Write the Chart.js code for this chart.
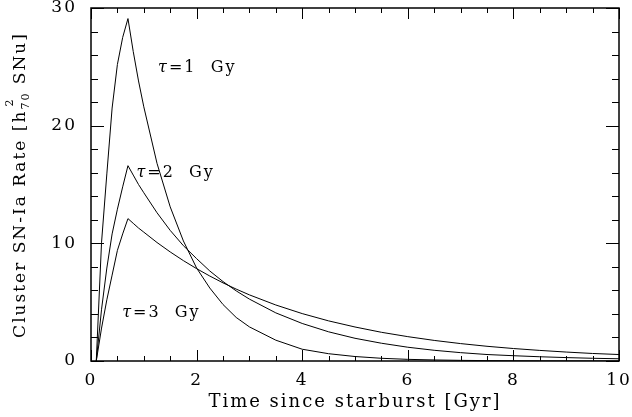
<!DOCTYPE html>
<html>
<head>
<meta charset="utf-8">
<script src="https://cdn.jsdelivr.net/npm/chart.js@4.4.0/dist/chart.umd.min.js"></script>
<style>
html, body { margin: 0; padding: 0; background: #fff; }
</style>
</head>
<body>
<canvas id="myChart" width="632" height="417"></canvas>
<script>
// time since starburst [Gyr]
const timeGyr = [0.1, 0.2, 0.3, 0.4, 0.5, 0.6, 0.7, 0.8, 0.9, 1.0,
    1.25, 1.5, 1.75, 2.0, 2.25, 2.5, 2.75, 3.0,
    3.5, 4.0, 4.5, 5.0, 5.5, 6.0, 6.5, 7.0, 7.5, 8.0, 8.5, 9.0, 9.5, 10.0];

// SN Ia rate [h70^2 SNu]
const rateTau1 = [0, 10.1, 15.9, 21.5, 25.2, 27.5, 29.1, 26.3, 23.8, 21.6,
    16.8, 13.1, 10.2, 7.9, 6.2, 4.8, 3.7, 2.9,
    1.77, 1.0, 0.62, 0.38, 0.23, 0.14, 0.09, 0.055, 0.033, 0.02, 0.012, 0.007, 0.004, 0.003];
const rateTau2 = [0, 4.4, 7.9, 10.8, 12.9, 14.8, 16.6, 15.8, 15.0, 14.3,
    12.6, 11.1, 9.8, 8.7, 7.65, 6.75, 5.96, 5.26,
    4.09, 3.19, 2.48, 1.93, 1.51, 1.17, 0.91, 0.71, 0.55, 0.45, 0.36, 0.29, 0.23, 0.19];
const rateTau3 = [0, 2.8, 5.2, 7.3, 9.4, 10.8, 12.1, 11.7, 11.3, 10.95,
    10.07, 9.27, 8.53, 7.85, 7.22, 6.64, 6.11, 5.62,
    4.76, 4.03, 3.41, 2.89, 2.44, 2.07, 1.75, 1.48, 1.25, 1.06, 0.90, 0.76, 0.64, 0.55];

const curveLabels = ['=1  Gy', '=2  Gy', '=3  Gy'];
const labelX = [1.27, 0.86, 0.59];
const labelY = [24.55, 15.6, 3.75];

const SERIF = '"DejaVu Serif", "Liberation Serif", serif';
const SPACING = '2px';

function toPoints(ys) {
    return timeGyr.map((t, i) => ({ x: t, y: ys[i] }));
}

function lineSet(ys) {
    return {
        data: toPoints(ys),
        borderColor: '#000',
        borderWidth: 1,
        pointRadius: 0,
        tension: 0,
        fill: false
    };
}

const spacing = {
    id: 'spacing',
    beforeLayout(chart) { chart.ctx.letterSpacing = SPACING; },
    beforeDraw(chart) { chart.ctx.letterSpacing = SPACING; }
};

const frameTicks = {
    id: 'frameTicks',
    afterDraw(chart) {
        const { ctx, chartArea: a, scales: { x, y } } = chart;
        ctx.save();
        ctx.strokeStyle = '#000';
        ctx.lineWidth = 1;
        ctx.beginPath();
        for (let v = 0; v <= 10.001; v += 0.5) {
            const px = Math.round(x.getPixelForValue(v)) + 0.5;
            const len = Math.abs(v % 2) < 0.01 ? 11 : 5;
            ctx.moveTo(px, a.bottom); ctx.lineTo(px, a.bottom - len);
            ctx.moveTo(px, a.top); ctx.lineTo(px, a.top + len);
        }
        for (let v = 0; v <= 30.001; v += 2) {
            const py = Math.round(y.getPixelForValue(v)) + 0.5;
            const len = Math.abs(v % 10) < 0.01 ? 13 : 7;
            ctx.moveTo(a.left, py); ctx.lineTo(a.left + len, py);
            ctx.moveTo(a.right, py); ctx.lineTo(a.right - len, py);
        }
        ctx.stroke();
        ctx.lineWidth = 1.5;
        ctx.strokeRect(a.left, a.top, a.right - a.left, a.bottom - a.top);

        // curve labels
        ctx.fillStyle = '#000';
        ctx.textBaseline = 'alphabetic';
        ctx.letterSpacing = SPACING;
        for (let i = 0; i < curveLabels.length; i++) {
            const lx = x.getPixelForValue(labelX[i]);
            const ly = y.getPixelForValue(labelY[i]);
            ctx.font = 'italic 16px ' + SERIF;
            ctx.fillText('\u03C4', lx, ly);
            const w = ctx.measureText('\u03C4').width;
            ctx.font = '16px ' + SERIF;
            ctx.fillText(curveLabels[i], lx + w, ly);
        }

        // y axis title with sub/superscript
        const parts1 = 'Cluster SN-Ia Rate [h';
        const parts2 = ' SNu]';
        ctx.translate(25, 185);
        ctx.rotate(-Math.PI / 2);
        ctx.font = '17px ' + SERIF;
        const w1 = ctx.measureText(parts1).width;
        const w3 = ctx.measureText(parts2).width;
        ctx.font = '11px ' + SERIF;
        const w2 = ctx.measureText('70').width;
        const total = w1 + w2 + w3;
        let cx = -total / 2;
        ctx.font = '17px ' + SERIF;
        ctx.fillText(parts1, cx, 0);
        cx += w1;
        ctx.font = '11px ' + SERIF;
        ctx.fillText('70', cx, 4);
        ctx.fillText('2', cx + 3, -12);
        cx += w2;
        ctx.font = '17px ' + SERIF;
        ctx.fillText(parts2, cx, 0);
        ctx.restore();
    }
};

const ctx = document.getElementById('myChart').getContext('2d');
const myChart = new Chart(ctx, {
    type: 'line',
    data: {
        datasets: [lineSet(rateTau1), lineSet(rateTau2), lineSet(rateTau3)]
    },
    options: {
        responsive: false,
        animation: false,
        layout: { padding: { top: 8, right: 13, left: 0, bottom: 0 } },
        plugins: {
            legend: { display: false },
            tooltip: { enabled: false }
        },
        scales: {
            x: {
                type: 'linear',
                min: 0,
                max: 10,
                grid: { display: false },
                border: { display: false },
                ticks: {
                    stepSize: 2,
                    color: '#000',
                    padding: 1,
                    maxRotation: 0,
                    font: { family: SERIF, size: 17 }
                },
                title: {
                    display: true,
                    text: 'Time since starburst [Gyr]',
                    color: '#000',
                    font: { family: SERIF, size: 18 },
                    padding: { top: 5, bottom: 4 }
                },
                afterFit: s => { s.height = 56; s.paddingLeft = 0; s.paddingRight = 0; }
            },
            y: {
                min: 0,
                max: 30,
                grid: { display: false },
                border: { display: false },
                ticks: {
                    stepSize: 10,
                    color: '#000',
                    padding: 6,
                    font: { family: SERIF, size: 17 }
                },
                afterFit: s => { s.width = 91; s.paddingTop = 0; s.paddingBottom = 0; }
            }
        }
    },
    plugins: [spacing, frameTicks]
});
</script>
</body>
</html>
